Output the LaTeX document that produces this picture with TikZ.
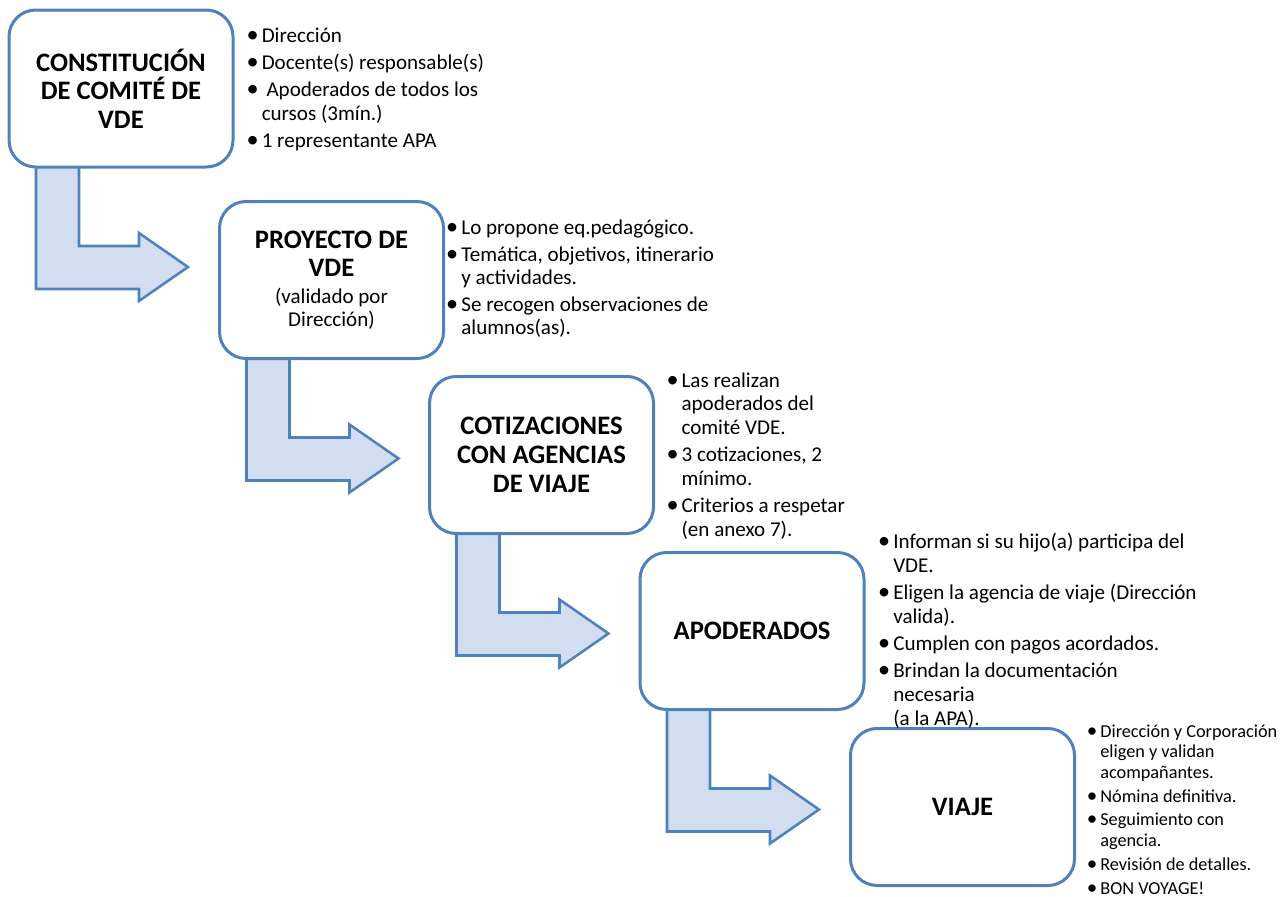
\documentclass[tikz,border=0pt]{standalone}
\usepackage{fontspec}
\setmainfont{Carlito}
\usetikzlibrary{calc}
\definecolor{bl}{HTML}{4F81BD}
\definecolor{af}{HTML}{D2DDEF}
\pgfdeclarelayer{bg}
\pgfsetlayers{bg,main}
\tikzset{
 stepbox/.style={draw=bl, line width=2.25pt, rounded corners=20pt, fill=white,
   minimum width=168pt, minimum height=117.75pt, outer sep=0pt, inner sep=0pt,
   align=center, font=\bfseries\fontsize{20}{21.5}\selectfont},
 bentarrow/.style={draw=bl, fill=af, line width=1.9pt, line join=miter},
 notes/.style={anchor=west, inner sep=0pt, align=left, font=\fontsize{15.8}{17.8}\selectfont},
 smallnotes/.style={anchor=west, inner sep=0pt, align=left, font=\fontsize{13.7}{15.4}\selectfont},
}
\newcommand{\bentarrow}[1]{%
  \draw[bentarrow]
    ($(#1.south west)+(27,-3)$) -- ($(#1.south west)+(27,122)$)
    -- ($(#1.south west)+(130,122)$) -- ($(#1.south west)+(130,134)$)
    -- ($(#1.south west)+(179,100)$) -- ($(#1.south west)+(130,66)$)
    -- ($(#1.south west)+(130,79)$) -- ($(#1.south west)+(70,79)$)
    -- ($(#1.south west)+(70,-3)$) -- cycle;}
\newcommand{\bu}{\makebox[0pt][c]{\scalebox{1.15}{•}}}
\begin{document}
\begin{tikzpicture}[x=0.75pt,y=-0.75pt]
\useasboundingbox (0,0) rectangle (1283,897);

\node[stepbox] (b1) at (121,88.5) {CONSTITUCIÓN\\DE COMITÉ DE\\VDE};
\node[stepbox] (b2) at (331.5,280) {PROYECTO DE\\VDE\\[-1.5pt]
  {\mdseries\fontsize{15.8}{17.5}\selectfont (validado por}\\[-4.3pt]
  {\mdseries\fontsize{15.8}{17.5}\selectfont Dirección)}};
\node[stepbox] (b3) at (541.5,455) {COTIZACIONES\\CON AGENCIAS\\DE VIAJE};
\node[stepbox] (b4) at (752,631) {APODERADOS};
\node[stepbox] (b5) at (962.5,807) {VIAJE};

\begin{pgfonlayer}{bg}
\bentarrow{b1}
\bentarrow{b2}
\bentarrow{b3}
\bentarrow{b4}
\end{pgfonlayer}

\node[notes] (t1) at ($(b1.east)+(19.5,2)$) {\begin{tabular}{@{}p{6.75pt}@{}l@{}}
\bu& Dirección\\[2.4pt]
\bu& Docente(s) responsable(s)\\[2.4pt]
\bu& \ Apoderados de todos los\\
 & cursos (3mín.)\\[2.4pt]
\bu& 1 representante APA
\end{tabular}};

\node[notes] (t2) at ($(b2.east)+(8.3,0)$) {\begin{tabular}{@{}p{7pt}@{}l@{}}
\bu& Lo propone eq.pedagógico.\\[2pt]
\bu& Temática, objetivos, itinerario\\
 & y actividades.\\[2pt]
\bu& Se recogen observaciones de\\
 & alumnos(as).
\end{tabular}};

\node[notes] (t3) at ($(b3.east)+(19,2)$) {\begin{tabular}{@{}p{6.6pt}@{}l@{}}
\bu& Las realizan\\
 & apoderados del\\
 & comité VDE.\\[2.6pt]
\bu& 3 cotizaciones, 2\\
 & mínimo.\\[2.6pt]
\bu& Criterios a respetar\\
 & (en anexo 7).
\end{tabular}};

\node[notes] (t4) at ($(b4.east)+(20,1)$) {\begin{tabular}{@{}p{6.75pt}@{}l@{}}
\bu& Informan si su hijo(a) participa del\\
 & VDE.\\[2.6pt]
\bu& Eligen la agencia de viaje (Dirección\\
 & valida).\\[2.6pt]
\bu& Cumplen con pagos acordados.\\[2.6pt]
\bu& Brindan la documentación\\
 & necesaria\\
 & (a la APA).
\end{tabular}};

\node[smallnotes] (t5) at ($(b5.east)+(17.3,4.5)$) {\begin{tabular}{@{}p{6.2pt}@{}l@{}}
\bu& Dirección y Corporación\\
 & eligen y validan\\
 & acompañantes.\\[2.5pt]
\bu& Nómina definitiva.\\[2.5pt]
\bu& Seguimiento con\\
 & agencia.\\[2.5pt]
\bu& Revisión de detalles.\\[2.5pt]
\bu& BON VOYAGE!
\end{tabular}};
\end{tikzpicture}
\end{document}
